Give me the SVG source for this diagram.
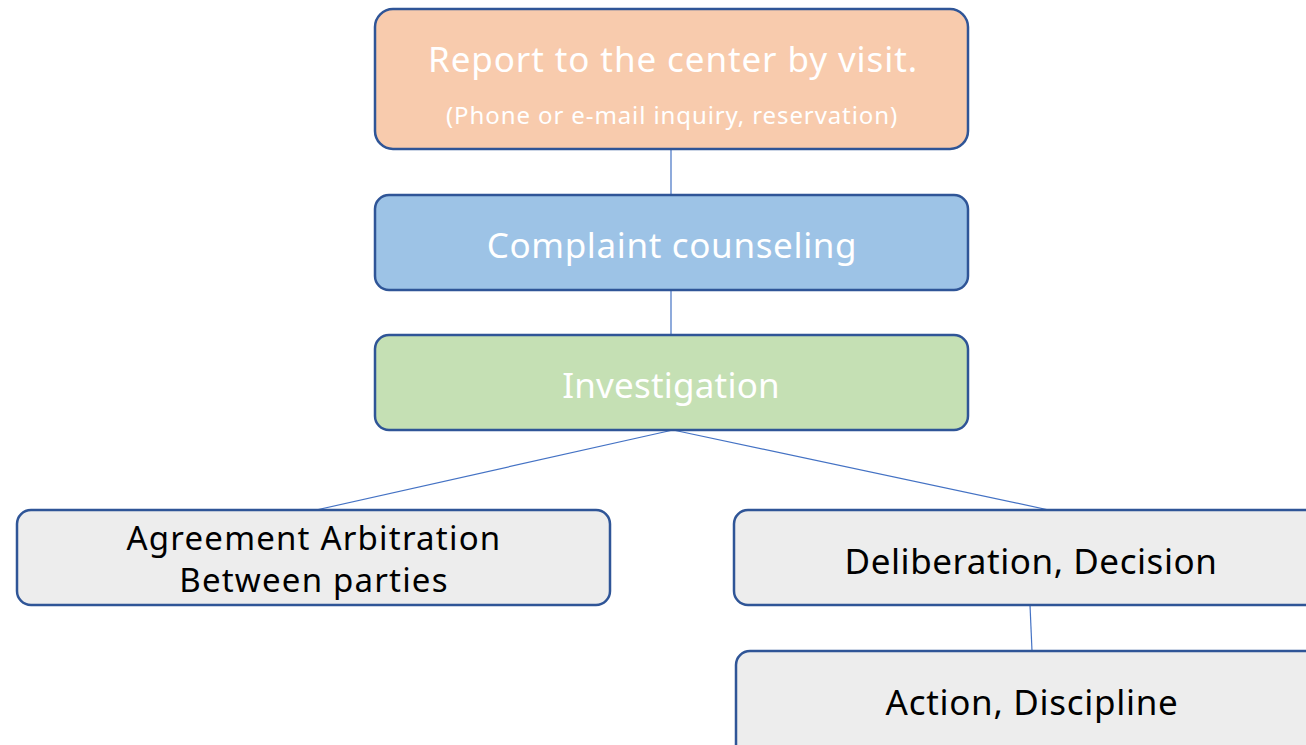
<svg xmlns="http://www.w3.org/2000/svg" width="1306" height="745" viewBox="0 0 1306 745">
<style>
.box{stroke:#2F5597;stroke-width:2.5}
.w{fill:#FFFFFF;font-family:"Noto Sans","Open Sans",sans-serif;text-anchor:middle}
.k{fill:#000000;font-family:"Noto Sans","Open Sans",sans-serif;text-anchor:middle}
.c{stroke:#4472C4;stroke-width:1.2;fill:none}
</style>
<rect width="1306" height="745" fill="#FFFFFF"/>
<g id="connectors">
<line class="c" x1="671" y1="149" x2="671" y2="195"/>
<line class="c" x1="671" y1="290" x2="671" y2="335"/>
<line class="c" x1="673" y1="430" x2="316" y2="510"/>
<line class="c" x1="673" y1="430" x2="1049" y2="510"/>
<line class="c" x1="1030" y1="605" x2="1032" y2="651"/>
</g>
<g id="report">
<rect class="box" x="375" y="9" width="593" height="140" rx="18" fill="#F8CBAD"/>
<text class="w" x="673" y="72" font-size="35" letter-spacing="0.9">Report to the center by visit.</text>
<text class="w" x="672" y="124" font-size="24" letter-spacing="0.9">(Phone or e-mail inquiry, reservation)</text>
</g>
<g id="complaint">
<rect class="box" x="375" y="195" width="593" height="95" rx="14" fill="#9DC3E6"/>
<text class="w" x="672" y="258" font-size="35" letter-spacing="0.65">Complaint counseling</text>
</g>
<g id="investigation">
<rect class="box" x="375" y="335" width="593" height="95" rx="14" fill="#C5E0B4"/>
<text class="w" x="671" y="398" font-size="35" letter-spacing="0.2">Investigation</text>
</g>
<g id="agreement">
<rect class="box" x="17" y="510" width="593" height="95" rx="14" fill="#EDEDED"/>
<text class="k" x="314" y="550" font-size="33" letter-spacing="1.2">Agreement Arbitration</text>
<text class="k" x="314" y="592" font-size="33" letter-spacing="1.2">Between parties</text>
</g>
<g id="deliberation">
<rect class="box" x="734" y="510" width="600" height="95" rx="14" fill="#EDEDED"/>
<text class="k" x="1031" y="574" font-size="35" letter-spacing="0.55">Deliberation, Decision</text>
</g>
<g id="action">
<rect class="box" x="736" y="651" width="600" height="120" rx="14" fill="#EDEDED"/>
<text class="k" x="1032" y="715" font-size="35" letter-spacing="0.7">Action, Discipline</text>
</g>
</svg>
